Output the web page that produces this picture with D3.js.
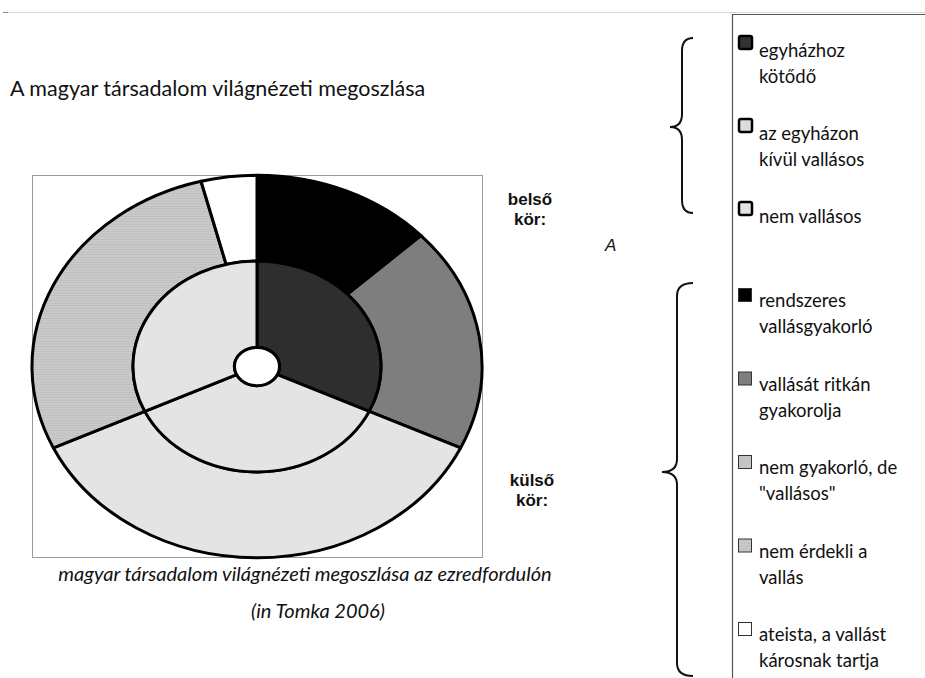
<!DOCTYPE html>
<html>
<head>
<meta charset="utf-8">
<script src="https://cdn.jsdelivr.net/npm/d3@7"></script>
<style>
  body { margin: 0; background: #fff; }
  svg { display: block; }
  .cal { font-family: Lato, "Open Sans", sans-serif; fill: #111; }
  .arl { font-family: "Liberation Sans", Arial, sans-serif; fill: #111; }
</style>
</head>
<body>
<svg width="925" height="678"></svg>
<script>
// belső kör (inner ring)
var innerLabels = [["egyházhoz", "kötődő"], ["az egyházon", "kívül vallásos"], ["nem vallásos"]],
    innerValues = [32, 36, 32],
    innerColors = ["#2e2e2e", "#e4e4e4", "#e4e4e4"];

// külső kör (outer ring)
var outerLabels = [["rendszeres", "vallásgyakorló"], ["vallását ritkán", "gyakorolja"],
                   ["nem gyakorló, de", "\"vallásos\""], ["nem érdekli a", "vallás"],
                   ["ateista, a vallást", "károsnak tartja"]],
    outerValues = [13, 19, 36, 28, 4],
    outerColors = ["#000000", "#7e7e7e", "#e4e4e4", "#c9c9c9", "#ffffff"];

var svg = d3.select("svg");

// pattern for the striped segment
var defs = svg.append("defs");
var stripes = defs.append("pattern")
    .attr("id", "stripes")
    .attr("patternUnits", "userSpaceOnUse")
    .attr("width", 6).attr("height", 3);
stripes.append("rect").attr("width", 6).attr("height", 3).attr("fill", "#cacaca");
stripes.append("rect").attr("width", 6).attr("height", 1).attr("fill", "#bdbdbd");

// thin line at the top of the page
svg.append("line")
    .attr("x1", 3).attr("x2", 925).attr("y1", 12.5).attr("y2", 12.5)
    .attr("stroke", "#d6d6d6").attr("stroke-width", 1);
svg.append("line")
    .attr("x1", 3).attr("x2", 8).attr("y1", 12.5).attr("y2", 12.5)
    .attr("stroke", "#888").attr("stroke-width", 1);

// title
svg.append("text")
    .attr("class", "cal")
    .attr("x", 10).attr("y", 96)
    .style("font-size", "21.5px")
    .text("A magyar társadalom világnézeti megoszlása");

// chart frame
svg.append("rect")
    .attr("x", 32.5).attr("y", 175.5)
    .attr("width", 450).attr("height", 382)
    .attr("fill", "none").attr("stroke", "#9a9a9a");

// the donut is an ellipse: draw circle arcs and squash them
var cx = 257, cy = 366.5, squash = 0.85;
var rHole = 22.5, rMid = 124, rOut = 225;

var pie = d3.pie().sort(null).value(function(d) { return d; });

var g = svg.append("g")
    .attr("transform", "translate(" + cx + "," + cy + ") scale(1," + squash + ")");

var arcInner = d3.arc().innerRadius(rHole).outerRadius(rMid),
    arcOuter = d3.arc().innerRadius(rMid).outerRadius(rOut);

g.selectAll(".outer")
    .data(pie(outerValues))
  .enter().append("path")
    .attr("class", "outer")
    .attr("d", arcOuter)
    .attr("fill", function(d, i) { return i == 3 ? "url(#stripes)" : outerColors[i]; })
    .attr("stroke", "#000")
    .attr("stroke-width", 3)
    .attr("stroke-linejoin", "round")
    .attr("vector-effect", "non-scaling-stroke");

g.selectAll(".inner")
    .data(pie(innerValues))
  .enter().append("path")
    .attr("class", "inner")
    .attr("d", arcInner)
    .attr("fill", function(d, i) { return innerColors[i]; })
    .attr("stroke", "#000")
    .attr("stroke-width", 3)
    .attr("stroke-linejoin", "round")
    .attr("vector-effect", "non-scaling-stroke");

g.append("circle")
    .attr("r", rHole)
    .attr("fill", "#fff")
    .attr("stroke", "#000")
    .attr("stroke-width", 3)
    .attr("vector-effect", "non-scaling-stroke");

// ring labels
function ringLabel(x, y, lines) {
  var t = svg.append("text")
      .attr("class", "arl")
      .style("font-size", "17px")
      .style("font-weight", "bold")
      .attr("text-anchor", "middle");
  lines.forEach(function(l, i) {
    t.append("tspan").attr("x", x).attr("y", y + i * 20).text(l);
  });
}
ringLabel(530, 205, ["belső", "kör:"]);
ringLabel(532, 486, ["külső", "kör:"]);

svg.append("text")
    .attr("class", "arl")
    .attr("x", 605).attr("y", 251)
    .style("font-size", "17px")
    .style("font-style", "italic")
    .text("A");

// caption
svg.append("text")
    .attr("class", "cal")
    .attr("x", 305).attr("y", 581)
    .attr("text-anchor", "middle")
    .style("font-size", "20px")
    .style("font-style", "italic")
    .text("magyar társadalom világnézeti megoszlása az ezredfordulón");
svg.append("text")
    .attr("class", "cal")
    .attr("x", 318).attr("y", 618)
    .attr("text-anchor", "middle")
    .style("font-size", "20px")
    .style("font-style", "italic")
    .text("(in Tomka 2006)");

// legend frame
svg.append("path")
    .attr("d", "M732.5,678 L732.5,14.5 L925,14.5")
    .attr("fill", "none")
    .attr("stroke", "#555")
    .attr("stroke-width", 1.2);

// braces
function brace(xEnd, xMid, xTip, yTop, yTip, yBot) {
  var r = 13, p = d3.path();
  p.moveTo(xEnd, yTop);
  p.quadraticCurveTo(xMid, yTop, xMid, yTop + r);
  p.lineTo(xMid, yTip - r);
  p.quadraticCurveTo(xMid, yTip, xTip, yTip);
  p.quadraticCurveTo(xMid, yTip, xMid, yTip + r);
  p.lineTo(xMid, yBot - r);
  p.quadraticCurveTo(xMid, yBot, xEnd, yBot);
  svg.append("path")
      .attr("d", p.toString())
      .attr("fill", "none")
      .attr("stroke", "#111")
      .attr("stroke-width", 2);
}
brace(693, 682, 670, 38, 127, 213);
brace(693, 677, 662, 283, 472, 676);

// legends
var yInner = d3.scaleLinear().domain([0, 1]).range([57, 140]),
    yOuter = d3.scaleLinear().domain([0, 1]).range([307, 390.5]);

function legend(labels, colors, yScale, thick, cls) {
  var item = svg.selectAll("." + cls)
      .data(labels)
    .enter().append("g")
      .attr("class", cls)
      .attr("transform", function(d, i) { return "translate(0," + yScale(i) + ")"; });
  item.append("rect")
      .attr("x", thick ? 739 : 738.5)
      .attr("y", thick ? -21 : -18.5)
      .attr("width", 13)
      .attr("height", 13)
      .attr("rx", thick ? 2 : 0)
      .attr("fill", function(d, i) { return i == 3 && !thick ? "url(#stripes)" : colors[i]; })
      .attr("stroke", thick ? "#000" : "#333")
      .attr("stroke-width", thick ? 2.5 : 1);
  item.append("text")
      .attr("class", "cal")
      .style("font-size", "18.5px")
      .selectAll("tspan")
      .data(function(d) { return d; })
    .enter().append("tspan")
      .attr("x", 759)
      .attr("y", function(d, j) { return j * 26; })
      .text(function(d) { return d; });
}
legend(innerLabels, ["#333333", "#dcdcdc", "#e4e4e4"], yInner, true, "leg-in");
legend(outerLabels, ["#000000", "#7e7e7e", "#c4c4c4", "#c9c9c9", "#ffffff"], yOuter, false, "leg-out");
</script>
</body>
</html>
